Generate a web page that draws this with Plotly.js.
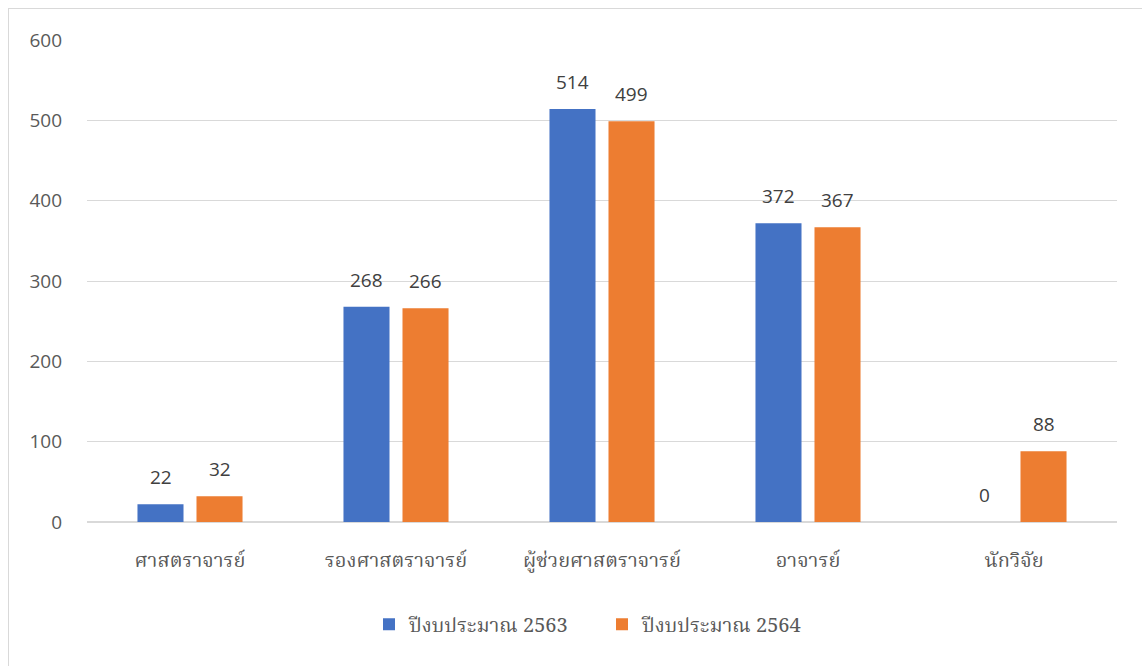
<!DOCTYPE html>
<html>
<head>
<meta charset="utf-8">
<script src="https://cdn.plot.ly/plotly-3.0.1.min.js"></script>
<style>
  html, body { margin:0; padding:0; background:#fff; }
  #wrap { position:relative; width:1142px; height:666px; overflow:hidden; }
  #chart { position:absolute; left:0; top:0; width:1142px; height:666px; }
  #frame { position:absolute; left:8px; top:8px; width:1200px; height:700px;
           border:1px solid #d9d9d9; pointer-events:none; box-sizing:border-box; }
</style>
</head>
<body>
<div id="wrap">
  <div id="chart"></div>
  <div id="frame"></div>
</div>
<script>
const categories = ["ศาสตราจารย์", "รองศาสตราจารย์", "ผู้ช่วยศาสตราจารย์", "อาจารย์", "นักวิจัย"];
const seriesNames = ["ปีงบประมาณ 2563", "ปีงบประมาณ 2564"];
const values2563 = [22, 268, 514, 372, 0];
const values2564 = [32, 266, 499, 367, 88];
const yTicks = [0, 100, 200, 300, 400, 500, 600];

const colors = ["#4472C4", "#ED7D31"];
const thaiFont = "'Noto Serif Thai', 'Noto Sans Thai', 'Tlwg Typo', 'Garuda', 'Loma', 'Norasi', serif";
const numFont = "'Open Sans', 'Noto Sans', sans-serif";

const series = [values2563, values2564];
const traces = series.map((vals, i) => ({
  type: "bar",
  name: seriesNames[i],
  x: categories,
  y: vals,
  marker: { color: colors[i] },
  hoverinfo: "skip"
}));

const annotations = [];
series.forEach((vals, i) => {
  vals.forEach((v, j) => {
    annotations.push({
      x: categories[j], y: v, xref: "x", yref: "y",
      text: String(v), showarrow: false,
      xshift: i === 0 ? -29.5 : 29.5, yshift: 12,
      yanchor: "bottom",
      font: { family: numFont, size: 19, color: "#404040" }
    });
  });
});

const layout = {
  width: 1142, height: 666,
  margin: { l: 87, r: 25, t: 40, b: 144 },
  paper_bgcolor: "rgba(0,0,0,0)",
  plot_bgcolor: "#fff",
  barmode: "group",
  bargap: 0.427,
  bargroupgap: 0.22,
  showlegend: true,
  legend: {
    orientation: "h", x: 0.5, xanchor: "center", y: -0.212, yanchor: "middle",
    font: { family: thaiFont, size: 20, color: "#595959" },
    itemsizing: "constant", traceorder: "normal",
    entrywidth: 188, entrywidthmode: "pixels"
  },
  xaxis: {
    type: "category",
    showgrid: false, zeroline: false, showline: false,
    ticks: "", ticklabelstandoff: 24,
    tickfont: { family: thaiFont, size: 20, color: "#595959" },
    fixedrange: true
  },
  yaxis: {
    range: [0, 600],
    tickvals: yTicks,
    ticktext: yTicks.map(String),
    showgrid: true, gridcolor: "#d9d9d9", gridwidth: 1,
    zeroline: true, zerolinecolor: "#d9d9d9", zerolinewidth: 2,
    showline: false, ticks: "", ticklabelstandoff: 24,
    tickfont: { family: numFont, size: 19, color: "#595959" },
    fixedrange: true
  },
  annotations: annotations
};

Plotly.newPlot("chart", traces, layout, { displayModeBar: false, staticPlot: true });
</script>
</body>
</html>
